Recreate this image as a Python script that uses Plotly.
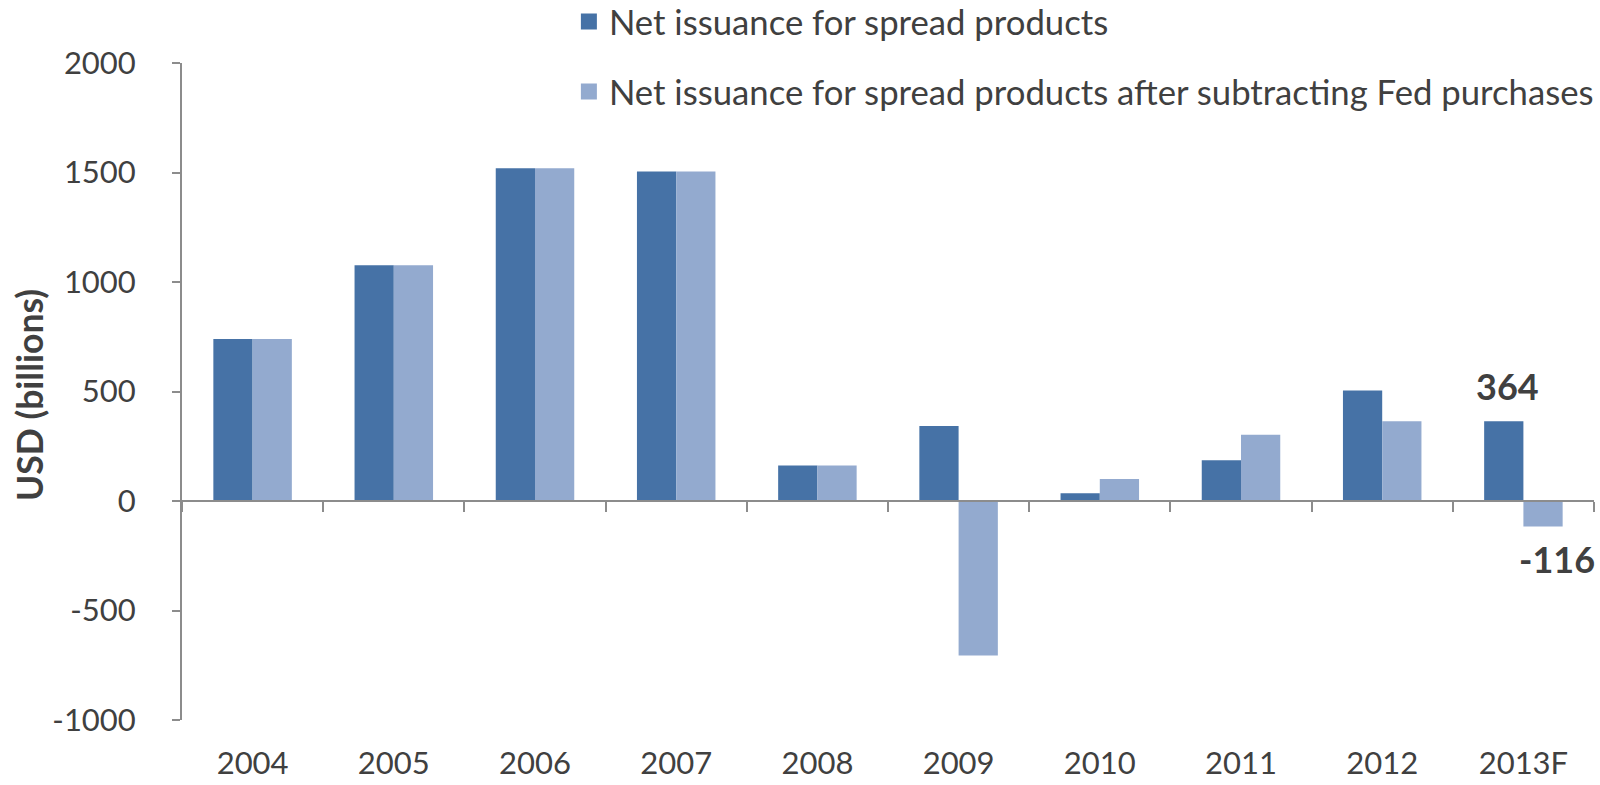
import plotly.graph_objects as go

# Annual net issuance of spread products, USD billions
years = ["2004", "2005", "2006", "2007", "2008", "2009", "2010", "2011", "2012", "2013F"]
net_issuance = [740, 1076, 1519, 1504, 162, 342, 35, 186, 505, 364]
net_after_fed = [740, 1076, 1519, 1504, 162, -705, 101, 303, 364, -116]

series_names = [
    "Net issuance for spread products",
    "Net issuance for spread products after subtracting Fed purchases",
]
y_ticks = [-1000, -500, 0, 500, 1000, 1500, 2000]
y_tick_text = [str(v) for v in y_ticks]  # plain hyphen for negatives

DARK = "#4672A6"
LIGHT = "#93AACF"
TEXT = "#404040"
AXIS = "#8C8C8C"
FONT = "Lato, Carlito, Calibri, sans-serif"

fig = go.Figure()
for name, values, color, group in [
    (series_names[0], net_issuance, DARK, "a"),
    (series_names[1], net_after_fed, LIGHT, "b"),
]:
    fig.add_trace(go.Bar(
        x=years, y=values, name=name, legendgroup=group, showlegend=False,
        marker=dict(color=color, line=dict(width=0)),
    ))
    # Larger square swatch for the legend entry
    fig.add_trace(go.Scatter(
        x=[None], y=[None], name=name, legendgroup=group, mode="markers",
        marker=dict(symbol="square", size=20, color=color),
        hoverinfo="skip",
    ))

# Carrier trace for the category axis drawn along y = 0
fig.add_trace(go.Scatter(
    x=years, y=[None] * len(years), xaxis="x2", mode="lines",
    showlegend=False, hoverinfo="skip",
))

# Value callouts for the forecast year
last = len(years) - 1
fig.add_annotation(
    x=years[last], y=net_issuance[last], text=f"<b>{net_issuance[last]}</b>",
    showarrow=False, xshift=-16, yshift=35,
    font=dict(family=FONT, size=36, color=TEXT),
)
fig.add_annotation(
    x=years[last], y=net_after_fed[last], text=f"<b>{net_after_fed[last]}</b>",
    showarrow=False, xshift=34, yshift=-33,
    font=dict(family=FONT, size=36, color=TEXT),
)

# Vertical axis title
fig.add_annotation(
    xref="paper", yref="paper", x=(29 - 182) / 1412, y=(720 - 395) / 657,
    text="<b>USD (billions)</b>", textangle=-90, showarrow=False,
    xanchor="center", yanchor="middle",
    font=dict(family=FONT, size=35.5, color=TEXT),
)

y_min, y_max = -1000, 2000
fig.update_layout(
    width=1600, height=785,
    margin=dict(l=182, r=6, t=63, b=65, autoexpand=False),
    paper_bgcolor="white", plot_bgcolor="white",
    barmode="group", bargap=0.444, bargroupgap=0,
    font=dict(family=FONT, size=31, color=TEXT),
    showlegend=True,
    legend=dict(
        x=0.274, xanchor="left", y=1.1075, yanchor="top",
        orientation="v", traceorder="grouped", tracegroupgap=22,
        font=dict(family=FONT, size=34.7, color=TEXT),
        bgcolor="rgba(0,0,0,0)", itemsizing="trace",
    ),
    xaxis=dict(
        type="category", categoryorder="array", categoryarray=years,
        range=[-0.5, len(years) - 0.5],
        showline=False, ticks="", showgrid=False, zeroline=False,
        ticklabelstandoff=22,
        tickfont=dict(family=FONT, size=31, color=TEXT),
    ),
    xaxis2=dict(
        type="category", categoryorder="array", categoryarray=years,
        range=[-0.5, len(years) - 0.5],
        overlaying="x", anchor="free", position=(0 - y_min) / (y_max - y_min),
        showline=True, linecolor=AXIS, linewidth=2,
        ticks="outside", tickson="boundaries", ticklen=10, tickcolor=AXIS, tickwidth=2,
        showticklabels=False, showgrid=False, zeroline=False,
    ),
    yaxis=dict(
        range=[y_min, y_max], tickvals=y_ticks, ticktext=y_tick_text,
        showline=True, linecolor=AXIS, linewidth=2,
        ticks="outside", ticklen=8, tickcolor=AXIS, tickwidth=2,
        showgrid=False, zeroline=False,
        ticklabelstandoff=30,
        tickfont=dict(family=FONT, size=31, color=TEXT),
    ),
)

fig.write_html("out.html")
